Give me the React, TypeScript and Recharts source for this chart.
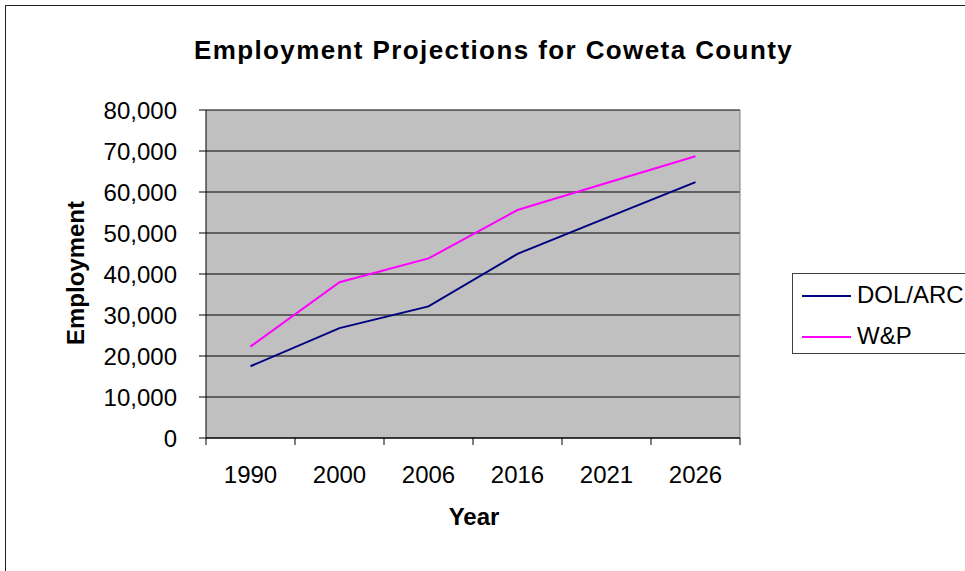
import React from "react";
import { LineChart, Line, XAxis, YAxis, CartesianGrid, ReferenceLine } from "recharts";

const years = ["1990", "2000", "2006", "2016", "2021", "2026"];
const dolArc = [17500, 26800, 32100, 44900, 53700, 62400];
const wAndP = [22300, 38000, 43800, 55600, 62200, 68700];
const yTicks = [0, 10000, 20000, 30000, 40000, 50000, 60000, 70000, 80000];

const series = [
  { key: "dol", name: "DOL/ARC", color: "#000080" },
  { key: "wp", name: "W&P", color: "#FF00FF" },
];

// each year sits in the middle of its band, ticks go on the band edges
const data = years.map((year, i) => ({
  pos: i + 0.5,
  year,
  dol: dolArc[i],
  wp: wAndP[i],
}));
const xTicks = years.flatMap((_, i) => [i, i + 0.5]).concat(years.length);

const FONT = '"Liberation Sans", Arial, sans-serif';

const YearTick = (props: any) => {
  const { x, y, payload } = props;
  const v = payload.value;
  if (Number.isInteger(v)) {
    return <line x1={x} y1={y} x2={x} y2={y + 7} stroke="#000" />;
  }
  return (
    <text x={x} y={y + 45} textAnchor="middle" fontSize={24} fill="#000" fontFamily={FONT}>
      {years[Math.floor(v)]}
    </text>
  );
};

function App() {
  return (
    <div
      style={{
        position: "absolute",
        left: 0,
        top: 0,
        width: 965,
        height: 571,
        overflow: "hidden",
        background: "#fff",
        fontFamily: FONT,
      }}
    >
      <div
        style={{
          position: "absolute",
          left: 5,
          top: 5,
          width: 1000,
          height: 600,
          border: "1px solid #222",
        }}
      />
      <LineChart
        width={965}
        height={571}
        data={data}
        margin={{ top: 110, right: 225, bottom: 73, left: 6 }}
        style={{ position: "absolute", left: 0, top: 0 }}
      >
        <CartesianGrid vertical={false} stroke="#000" fill="#C0C0C0" fillOpacity={1} />
        <XAxis
          dataKey="pos"
          type="number"
          domain={[0, years.length]}
          ticks={xTicks}
          interval={0}
          tick={<YearTick />}
          tickLine={false}
          tickSize={0}
          tickMargin={0}
          height={60}
          stroke="#000"
        />
        <YAxis
          domain={[0, 80000]}
          ticks={yTicks}
          interval={0}
          width={200}
          tickSize={7}
          tickMargin={22}
          tickFormatter={(v: number) => v.toLocaleString("en-US")}
          tick={{ fontSize: 24, fill: "#000", fontFamily: FONT }}
          stroke="#000"
        />
        <ReferenceLine x={years.length} stroke="#808080" />
        {series.map((s) => (
          <Line
            key={s.key}
            dataKey={s.key}
            name={s.name}
            stroke={s.color}
            strokeWidth={2}
            dot={false}
            type="linear"
            isAnimationActive={false}
          />
        ))}
      </LineChart>
      <svg
        width={965}
        height={571}
        style={{ position: "absolute", left: 0, top: 0, pointerEvents: "none" }}
        fontFamily={FONT}
      >
        <text x={493.5} y={59} textAnchor="middle" fontSize={26} fontWeight="bold" letterSpacing={1.4}>
          Employment Projections for Coweta County
        </text>
        <text x={474} y={525} textAnchor="middle" fontSize={24} fontWeight="bold">
          Year
        </text>
        <text
          x={84}
          y={273}
          textAnchor="middle"
          fontSize={24}
          fontWeight="bold"
          transform="rotate(-90 84 273)"
        >
          Employment
        </text>
      </svg>
      <div
        style={{
          position: "absolute",
          left: 792,
          top: 273,
          width: 185,
          height: 79,
          border: "1px solid #404040",
          background: "#fff",
        }}
      >
        {series.map((s, i) => (
          <div key={s.key}>
            <div
              style={{
                position: "absolute",
                left: 9,
                top: 21 + i * 41,
                width: 49,
                height: 2,
                background: s.color,
              }}
            />
            <div
              style={{
                position: "absolute",
                left: 64,
                top: 7 + i * 41,
                fontSize: 24,
                lineHeight: "28px",
                color: "#000",
              }}
            >
              {s.name}
            </div>
          </div>
        ))}
      </div>
    </div>
  );
}

export default App;
